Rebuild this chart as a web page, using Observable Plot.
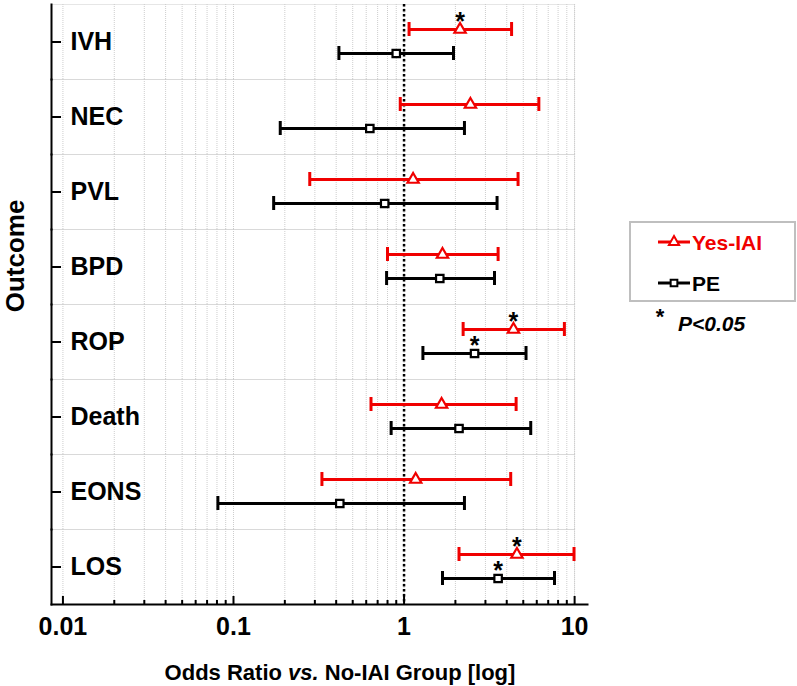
<!DOCTYPE html>
<html><head><meta charset="utf-8">
<script src="https://cdn.jsdelivr.net/npm/d3@7"></script>
<script src="https://cdn.jsdelivr.net/npm/@observablehq/plot@0.6"></script>
<style>body{margin:0;background:#fff;} #chart{position:relative;}</style>
</head><body><div id="chart"></div>
<script>
const outcomes = ["IVH", "NEC", "PVL", "BPD", "ROP", "Death", "EONS", "LOS"];
const seriesNames = ["Yes-IAI", "PE"];
const yesOR  = [2.13, 2.45, 1.13, 1.68, 4.38, 1.66, 1.17, 4.59];
const yesLo  = [1.07, 0.95, 0.28, 0.80, 2.22, 0.64, 0.33, 2.10];
const yesHi  = [4.27, 6.17, 4.66, 3.56, 8.71, 4.54, 4.22, 9.92];
const yesSig = [true, false, false, false, true, false, false, true];
const peOR   = [0.90, 0.63, 0.77, 1.62, 2.59, 2.10, 0.42, 3.56];
const peLo   = [0.415, 0.188, 0.172, 0.79, 1.29, 0.84, 0.081, 1.68];
const peHi   = [1.95, 2.26, 3.51, 3.39, 5.19, 5.53, 2.26, 7.62];
const peSig  = [false, false, false, false, true, false, false, true];
const majorTicks = [0.01, 0.1, 1, 10];
const tickLabels = ["0.01", "0.1", "1", "10"];
const minorTicks = [];
for (const m of majorTicks.slice(0, -1)) for (let k = 2; k <= 9; k++) minorTicks.push(+(m * k).toPrecision(2));
const gridTicks = majorTicks.concat(minorTicks);

const rows = [];
outcomes.forEach((o, i) => {
  rows.push({outcome: o, series: "Yes-IAI", or: yesOR[i], lo: yesLo[i], hi: yesHi[i], sig: yesSig[i]});
  rows.push({outcome: o, series: "PE", or: peOR[i], lo: peLo[i], hi: peHi[i], sig: peSig[i]});
});

const red = "#f00000";
const FONT = '"Liberation Sans", Arial, sans-serif';
const xDomain = [0.00857, 11.9];

const chart = Plot.plot({
  width: 797, height: 686,
  marginLeft: 51, marginRight: 210, marginTop: 1, marginBottom: 79,
  style: {fontFamily: FONT, background: "#fff", overflow: "visible"},
  x: {type: "log", domain: xDomain, axis: null},
  y: {type: "band", domain: seriesNames, paddingInner: 0.4, paddingOuter: 0.745, axis: null},
  fy: {domain: outcomes, padding: 0, axis: null},
  facet: {marginTop: 0, marginBottom: 0, marginLeft: 0, marginRight: 0},
  color: {domain: seriesNames, range: [red, "#000"]},
  symbol: {domain: seriesNames, range: ["triangle", "square"]},
  marks: [
    Plot.ruleX(gridTicks, {x: d => d, stroke: "#cdcdcd", strokeWidth: 1, strokeDasharray: "1,1"}),
    Plot.frame({stroke: "#cdcdcd", strokeWidth: 1, strokeDasharray: "1,1", insetRight: 13}),
    Plot.ruleX([1], {stroke: "#000", strokeWidth: 2.5, strokeDasharray: "2.5,2.5"}),
    Plot.ruleY(rows, {fy: "outcome", y: "series", x1: "lo", x2: "hi", stroke: "series", strokeWidth: 3}),
    Plot.tickX(rows, {fy: "outcome", y: "series", x: "lo", stroke: "series", strokeWidth: 3}),
    Plot.tickX(rows, {fy: "outcome", y: "series", x: "hi", stroke: "series", strokeWidth: 3}),
    Plot.dot(rows, {fy: "outcome", y: "series", x: "or", symbol: "series", stroke: "series", fill: "#fff", r: 4.2, strokeWidth: 2.2}),
    Plot.text(rows.filter(d => d.sig), {fy: "outcome", y: "series", x: "or", text: () => "*", fontSize: 25, fontWeight: "bold", fill: "#000", dy: -8}),
    Plot.frame({anchor: "left", stroke: "#000", strokeWidth: 2}),
    Plot.frame({anchor: "bottom", facetAnchor: "bottom", stroke: "#000", strokeWidth: 2}),
    Plot.axisFy({anchor: "left", tickSize: -10, strokeWidth: 2, tickFormat: () => "", label: null}),
    Plot.axisFy({anchor: "left", tickSize: 0, tickPadding: -19, textAnchor: "start", fontSize: 25, fontWeight: "bold", fill: "#000", label: null}),
    Plot.axisX(majorTicks, {tickSize: -8, strokeWidth: 2, tickFormat: () => "", label: null}),
    Plot.axisX(minorTicks, {tickSize: -4, strokeWidth: 2, tickFormat: () => "", label: null}),
    Plot.axisX(majorTicks, {tickSize: 0, tickPadding: 13, tickFormat: d => tickLabels[majorTicks.indexOf(d)], fontSize: 25, fontWeight: "bold", fill: "#000", label: null})
  ]
});

const svg = d3.select(chart);
svg.append("text")
  .attr("transform", "translate(23.5,256) rotate(-90)")
  .attr("text-anchor", "middle").attr("font-family", FONT)
  .attr("font-size", 26).attr("font-weight", "bold").attr("fill", "#000")
  .text("Outcome");

const xt = svg.append("text")
  .attr("x", 340).attr("y", 680).attr("text-anchor", "middle")
  .attr("font-family", FONT).attr("font-size", 22).attr("font-weight", "bold").attr("fill", "#000");
xt.append("tspan").text("Odds Ratio ");
xt.append("tspan").attr("font-style", "italic").text("vs.");
xt.append("tspan").text(" No-IAI Group [log]");

// legend
const lg = svg.append("g").attr("font-family", FONT).attr("font-weight", "bold").attr("text-anchor", "start");
lg.append("rect").attr("x", 630).attr("y", 222).attr("width", 165).attr("height", 79)
  .attr("fill", "none").attr("stroke", "#bfbfbf").attr("stroke-width", 2);
const legendItems = [
  {name: seriesNames[0], color: red, sym: d3.symbolTriangle, y: 242},
  {name: seriesNames[1], color: "#000", sym: d3.symbolSquare, y: 283}
];
for (const it of legendItems) {
  lg.append("line").attr("x1", 658).attr("x2", 690).attr("y1", it.y).attr("y2", it.y)
    .attr("stroke", it.color).attr("stroke-width", 3);
  lg.append("path").attr("d", d3.symbol(it.sym, 45)()).attr("transform", `translate(674,${it.y})`)
    .attr("fill", "#fff").attr("stroke", it.color).attr("stroke-width", 2);
  lg.append("text").attr("x", 692).attr("y", it.y + 7.5).attr("text-anchor", "start")
    .attr("font-size", 21).attr("fill", it.color).text(it.name);
}
lg.append("text").attr("x", 660).attr("y", 324).attr("text-anchor", "middle").attr("font-size", 22).attr("fill", "#000").text("*");
lg.append("text").attr("x", 678).attr("y", 330.5).attr("text-anchor", "start").attr("font-size", 21)
  .attr("font-style", "italic").attr("fill", "#000").text("P<0.05");

document.getElementById("chart").appendChild(chart);
</script>
</body></html>
